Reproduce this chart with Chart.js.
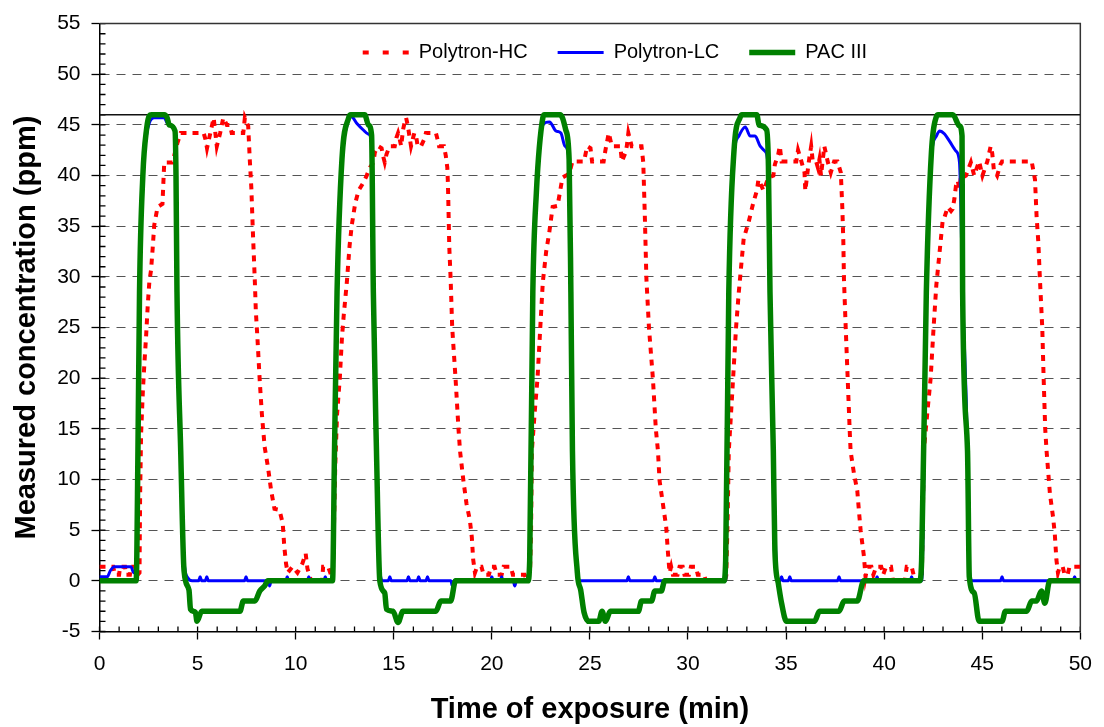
<!DOCTYPE html>
<html>
<head>
<meta charset="utf-8">
<script src="https://cdn.jsdelivr.net/npm/chart.js@4.4.0/dist/chart.umd.min.js"></script>
<style>
    html, body { margin: 0; padding: 0; background: #fff; }
    #wrap { width: 1104px; height: 727px; }
</style>
</head>
<body>
<div id="wrap"><canvas id="grafico" width="1104" height="727"></canvas></div>
<script>
// [time (min), concentration (ppm)]
const polytronHC = [
    [0, 1.4], [0.7, 1.4], [0.78, 0.6], [1.0, 0.6], [1.05, 1.4], [1.3, 1.4], [1.35, 0.6], [1.55, 0.6], [1.6, 1.4], [1.85, 1.4], [1.95, 0.6],
    [2.04, 0.8], [2.07, 8.3], [2.12, 14.5], [2.21, 18.7], [2.29, 21.5], [2.38, 24.3], [2.46, 27.2], [2.54, 29.5], [2.63, 30.7], [2.71, 32.8],
    [2.79, 35.1], [2.96, 36.9], [3.21, 37.2], [3.3, 41.3], [3.72, 41.3], [3.97, 43.2], [4.14, 44.2], [5.31, 44.2], [5.4, 43.6], [5.48, 42.7],
    [5.65, 44.2], [5.82, 45.7], [5.98, 42.9], [6.15, 44.2], [6.31, 45.7], [6.49, 45.0], [6.65, 45.0], [6.74, 44.2], [7.33, 44.2], [7.41, 45.7],
    [7.58, 44.9], [7.66, 41.6], [7.74, 38.8], [7.82, 34.4], [7.92, 29.5], [7.97, 26.6], [8.05, 24], [8.17, 19.7], [8.28, 16.4], [8.42, 13.2],
    [8.59, 11.2], [8.75, 8.9], [8.92, 7.1], [9.17, 7.0], [9.34, 5.7], [9.42, 3.4], [9.51, 1.7], [9.59, 0.8], [9.84, 1.4], [10.09, 0.8],
    [10.34, 1.7], [10.51, 2.7], [10.6, 1.2], [10.7, 0.6], [10.78, 0], [11.35, 0], [11.4, 1.4], [11.65, 1.4], [11.8, 0.6],
    [11.9, 0.6], [12.02, 11.5], [12.11, 16.4], [12.25, 20], [12.36, 24], [12.45, 26.2], [12.61, 29.5], [12.75, 33.1], [12.86, 35.1],
    [13.03, 37.2], [13.2, 38.5], [13.45, 39.3], [13.62, 40], [13.79, 40.8], [13.96, 41.3], [14.04, 42.3], [14.21, 42.9], [14.38, 42.7],
    [14.46, 41.9], [14.54, 41.3], [14.63, 42.1], [14.79, 42.9], [15.05, 42.9], [15.13, 43.7], [15.22, 44.2], [15.3, 43.6], [15.38, 42.9],
    [15.47, 44.5], [15.55, 45.2], [15.63, 45.7], [15.72, 44.9], [15.8, 43.9], [15.88, 42.9], [15.97, 43.6], [16.05, 44.2], [16.14, 43.9],
    [16.22, 42.9], [16.39, 42.9], [16.56, 43.6], [16.64, 44.2], [17.15, 44.2], [17.23, 43.6], [17.31, 42.9], [17.56, 42.9], [17.65, 42],
    [17.73, 40.8], [17.76, 39.3], [17.78, 37.7], [17.83, 33], [17.9, 29.8], [17.98, 25], [18.15, 20], [18.3, 15], [18.38, 12.8],
    [18.55, 9.9], [18.71, 7.6], [18.88, 6], [18.98, 4.3], [19.05, 2.1], [19.14, 0.8], [19.25, 1.4], [19.47, 1.4], [19.58, 0.6],
    [19.85, 0.6], [19.95, 1.4], [20.14, 1.4], [20.25, 0.6], [20.5, 0.6], [20.6, 1.4], [20.97, 1.4], [21.07, 0.6], [21.67, 0.6], [21.8, 0],
    [21.95, 1], [22.0, 5], [22.04, 12.8], [22.2, 17], [22.33, 20], [22.47, 25], [22.6, 29.5], [22.77, 32.5], [22.93, 34.4], [23.1, 36.9],
    [23.35, 37], [23.44, 38], [23.6, 39.8], [23.78, 40], [23.94, 40.2], [24.03, 40.8], [24.11, 41.4], [24.7, 41.4], [24.86, 42.9],
    [25.03, 42.7], [25.11, 41.4], [25.7, 41.4], [25.79, 42.5], [25.96, 44.2], [26.12, 42.9], [26.55, 42.9], [26.63, 41.4], [26.8, 42.2],
    [26.88, 42.9], [26.96, 44.2], [27.13, 42.9], [27.63, 42.9], [27.72, 41.3], [27.8, 36], [27.88, 29.8], [28.01, 25], [28.21, 20],
    [28.36, 15], [28.47, 12.8], [28.55, 9.9], [28.72, 7.6], [28.89, 5.3], [28.97, 3], [29.06, 0.8], [29.14, 1.4], [29.23, 0.6],
    [29.47, 0.6], [29.57, 1.4], [29.73, 1.4], [29.82, 0.6], [30.05, 0.6], [30.15, 1.4], [30.4, 1.4], [30.5, 0.6], [30.83, 0.6],
    [30.9, 0], [31.88, 0],
    [31.95, 0.5], [32.02, 6], [32.08, 12.8], [32.3, 20], [32.45, 25], [32.59, 28.5], [32.84, 33.8], [33.09, 35.4], [33.34, 37.4],
    [33.51, 38.5], [33.59, 39.6], [33.67, 39.3], [33.85, 38.5], [34.1, 39.8], [34.35, 40], [34.43, 41.1], [34.6, 42.1], [34.68, 42.9],
    [34.77, 41.4], [35.52, 41.4], [35.61, 42.5], [35.78, 41.4], [35.94, 40.3], [35.98, 38.5], [36.11, 40.6], [36.19, 41.8], [36.28, 42.9],
    [36.36, 41.4], [36.53, 41.4], [36.62, 40.8], [36.7, 41.6], [36.78, 40], [36.95, 42.9], [37.12, 41.4], [37.28, 40.3], [37.45, 41.4],
    [37.62, 41.4], [37.79, 40.3], [37.87, 36.7], [37.92, 33.4], [37.95, 29.8], [38.04, 25], [38.14, 20], [38.24, 15], [38.29, 12.8],
    [38.46, 10.6], [38.63, 8.9], [38.71, 7], [38.8, 5], [38.97, 2.4], [39.05, 0.4], [39.15, 1.4], [39.35, 1.4], [39.45, 0.6],
    [39.6, 1.4], [39.85, 1.4], [39.95, 0.6], [40.1, 1.4], [40.35, 1.4], [40.45, 0], [41.05, 0], [41.15, 1.4], [41.4, 1.4],
    [41.5, 0.6], [41.6, 0], [41.88, 0],
    [41.92, 0.5], [41.97, 6], [42.02, 12.8], [42.22, 17], [42.37, 20], [42.52, 25], [42.66, 29.2], [42.91, 34.1], [42.99, 35.7],
    [43.08, 35.9], [43.24, 36.9], [43.41, 36.5], [43.49, 36.7], [43.58, 37.7], [43.66, 39], [43.75, 39.5], [43.83, 38.7], [43.92, 40],
    [44.0, 39.8], [44.17, 40], [44.42, 41.3], [44.59, 40], [44.84, 41.4], [45.01, 40], [45.26, 41.4], [45.43, 42.9], [45.51, 42.2],
    [45.59, 40.6], [45.76, 40], [45.93, 41.1], [46.01, 41.4], [47.52, 41.4], [47.69, 39.6], [47.77, 36], [47.86, 33.4], [47.94, 29.8],
    [48.06, 25], [48.13, 20], [48.21, 15], [48.28, 12.8], [48.45, 8.6], [48.61, 6.3], [48.7, 4.6], [48.78, 2.1], [48.86, 0.8],
    [48.95, 1.4], [49.1, 1.4], [49.2, 0.6], [49.35, 0.6], [49.45, 1.4], [50, 1.4]
];

const polytronLC = [
    [0, 0.4], [0.4, 0.4], [0.55, 1.0], [0.75, 1.4], [1.6, 1.4], [1.75, 0.8], [1.86, 1.0],
    [1.96, 12.8], [2.04, 28.5], [2.21, 40], [2.4, 44], [2.54, 45.2], [2.79, 45.7], [3.3, 45.7], [3.45, 45.2], [3.63, 44.9], [3.85, 44.2],
    [3.9, 40], [3.95, 28.5], [4.14, 12.8], [4.31, 2], [4.5, 0.3], [4.72, 0],
    [5.05, 0], [5.13, 0.4], [5.21, 0], [5.39, 0], [5.47, 0.4], [5.55, 0], [7.39, 0], [7.47, 0.4], [7.55, 0],
    [8.59, 0], [8.67, -0.5], [8.75, 0], [9.49, 0], [9.57, 0.4], [9.65, 0], [10.59, 0], [10.67, 0.4], [10.75, 0],
    [11.43, 0], [11.51, 0.4], [11.59, 0],
    [11.88, 0], [11.98, 12.8], [12.11, 28.5], [12.36, 41.6], [12.6, 44.8], [12.85, 45.8], [13.1, 45.2], [13.45, 44.5], [13.7, 44.1],
    [13.87, 43.3], [13.96, 28.5], [14.12, 12.8], [14.29, 1], [14.45, 0],
    [14.72, 0], [14.8, 0.4], [14.88, 0], [15.67, 0], [15.75, 0.4], [15.83, 0], [16.19, 0], [16.27, 0.4], [16.35, 0],
    [16.64, 0], [16.72, 0.4], [16.8, 0], [17.91, 0], [17.99, -0.5], [18.07, 0], [19.92, 0], [20.0, 0.4], [20.08, 0],
    [20.42, 0], [20.5, 0.4], [20.58, 0], [21.09, 0], [21.17, -0.5], [21.25, 0],
    [21.84, 0], [21.93, 2], [22.09, 28.5], [22.27, 38.3], [22.55, 44.8], [22.94, 45.3], [23.27, 44.4], [23.52, 44.2], [23.73, 42.9],
    [23.92, 41.8], [24.03, 28.5], [24.11, 12.8], [24.36, 1], [24.5, 0],
    [26.88, 0], [26.96, 0.4], [27.04, 0], [28.23, 0], [28.31, 0.4], [28.39, 0],
    [31.92, 0], [32.08, 28.5], [32.34, 42], [32.59, 43.9], [32.92, 44.8], [33.17, 43.9], [33.42, 43.9], [33.68, 42.9], [33.93, 42.4],
    [34.08, 41], [34.18, 28.5], [34.35, 12.8], [34.5, 1.5], [34.62, 0],
    [34.69, 0], [34.77, 0.4], [34.85, 0], [35.11, 0], [35.19, 0.4], [35.27, 0], [37.62, 0], [37.7, 0.4], [37.78, 0],
    [39.56, 0], [39.64, 0.4], [39.72, 0], [41.32, 0], [41.4, 0.4], [41.48, 0],
    [41.91, 0], [42.15, 28.5], [42.41, 42], [42.66, 43.9], [42.83, 44.4], [43.08, 44.1], [43.33, 43.4], [43.67, 42.4], [43.84, 41.3],
    [44.0, 28.5], [44.25, 12.8], [44.34, 1], [44.5, 0],
    [45.93, 0], [46.01, 0.4], [46.09, 0], [49.63, 0], [49.71, 0.4], [49.79, 0], [50, 0]
];

const pacIII = [
    [0, 0], [1.87, 0], [1.96, 12.8], [2.04, 28.5], [2.21, 40], [2.4, 44.6], [2.54, 45.9], [2.64, 46], [3.3, 46], [3.45, 45.7],
    [3.55, 45], [3.85, 44.4], [3.9, 40], [3.95, 28.5], [4.14, 12.8], [4.31, 1], [4.56, -0.9], [4.64, -2.8], [4.89, -3.1], [4.97, -4],
    [5.21, -3], [7.16, -3], [7.33, -2], [7.92, -2], [8.17, -1], [8.42, -0.5], [8.58, 0],
    [11.88, 0], [11.98, 12.8], [12.11, 28.5], [12.36, 41.6], [12.7, 45.7], [12.81, 46], [13.52, 46], [13.71, 45], [13.87, 44],
    [13.96, 28.5], [14.12, 12.8], [14.29, 0], [14.54, -1.2], [14.63, -2.8], [14.96, -3], [15.22, -4.1], [15.47, -3], [17.15, -3],
    [17.4, -2], [17.9, -2], [18.15, 0],
    [21.84, 0], [21.93, 2], [22.09, 28.5], [22.27, 38.3], [22.6, 45.7], [22.68, 46], [23.49, 46], [23.6, 45.7], [23.77, 44.5],
    [23.94, 41.6], [24.03, 28.5], [24.11, 12.8], [24.36, 0.8], [24.53, -0.9], [24.7, -3.1], [24.95, -4], [25.45, -4], [25.62, -3],
    [25.79, -4], [26.04, -3], [27.47, -3], [27.63, -2], [28.14, -2], [28.31, -1], [28.64, -1], [28.81, 0],
    [31.83, 0], [31.92, 2], [32.08, 28.5], [32.34, 42.3], [32.67, 45.8], [32.75, 46], [33.51, 46], [33.62, 45], [34.01, 44.5],
    [34.1, 41], [34.18, 28.5], [34.35, 12.8], [34.43, 3], [34.6, -0.2], [34.77, -2.2], [35.02, -4], [36.45, -4], [36.7, -3],
    [37.7, -3], [37.96, -2], [38.63, -2], [38.96, 0],
    [41.81, 0], [41.91, 2], [42.15, 28.5], [42.41, 42.3], [42.66, 45.8], [42.75, 46], [43.5, 46], [43.84, 44.9], [43.97, 43.9],
    [44.0, 28.5], [44.25, 12.8], [44.34, 0.4], [44.59, -1.2], [44.84, -4], [46.01, -4], [46.18, -3], [47.27, -3], [47.52, -2],
    [47.76, -2], [48.02, -1], [48.19, -2.2], [48.44, 0], [50, 0]
];

const limitPpm = 46;
const timeRange = [0, 50];

const toPoints = pairs => pairs.map(([x, y]) => ({ x, y }));

const fontFamily = '"Liberation Sans", Arial, sans-serif';
Chart.defaults.font.family = fontFamily;
Chart.defaults.color = '#000';

// the legend box takes the top margin; move it down inside the plot
const legendPlacement = {
    id: 'legendPlacement',
    afterLayout(chart) {
        const lg = chart.legend;
        const area = chart.chartArea;
        lg.left = area.left + 25;
        lg.right = area.right + 25;
        lg.top = area.top - 11;
        lg.bottom = lg.top + 70;
    }
};

// minor ticks inside the axes, plus the top and right frame
const minorTicks = {
    id: 'minorTicks',
    beforeDatasetsDraw(chart) {
        const { ctx, chartArea: area, scales: { x, y } } = chart;
        ctx.save();
        ctx.strokeStyle = '#000';
        ctx.lineWidth = 1.3;
        ctx.beginPath();
        for (let v = -5; v <= 55; v++) {
            const py = y.getPixelForValue(v);
            ctx.moveTo(area.left, py);
            ctx.lineTo(area.left + 6, py);
        }
        for (let v = 0; v <= 50; v++) {
            const px = x.getPixelForValue(v);
            ctx.moveTo(px, area.bottom);
            ctx.lineTo(px, area.bottom - 5);
        }
        ctx.stroke();
        ctx.strokeStyle = '#333';
        ctx.lineWidth = 1.5;
        ctx.beginPath();
        ctx.moveTo(area.left, area.top);
        ctx.lineTo(area.right, area.top);
        ctx.lineTo(area.right, area.bottom);
        ctx.stroke();
        ctx.restore();
    }
};

new Chart(document.getElementById('grafico'), {
    type: 'line',
    data: {
        datasets: [{
            label: 'Polytron-HC',
            data: toPoints(polytronHC),
            borderColor: '#ff0000',
            backgroundColor: '#ff0000',
            borderWidth: 4,
            borderDash: [6, 6],
            pointRadius: 0,
            tension: 0,
            order: 3
        }, {
            label: 'Polytron-LC',
            data: toPoints(polytronLC),
            borderColor: '#0000ff',
            backgroundColor: '#0000ff',
            borderWidth: 3,
            pointRadius: 0,
            cubicInterpolationMode: 'monotone',
            order: 2
        }, {
            label: 'PAC III',
            data: toPoints(pacIII),
            borderColor: '#008000',
            backgroundColor: '#008000',
            borderWidth: 5.5,
            pointRadius: 0,
            cubicInterpolationMode: 'monotone',
            order: 1
        }, {
            label: 'limit',
            data: toPoints([[timeRange[0], limitPpm], [timeRange[1], limitPpm]]),
            borderColor: '#111',
            borderWidth: 1.5,
            pointRadius: 0,
            order: 4
        }]
    },
    options: {
        responsive: false,
        animation: false,
        layout: {
            padding: { top: 0, right: 12, left: 0, bottom: 0 }
        },
        plugins: {
            tooltip: { enabled: false },
            legend: {
                position: 'top',
                align: 'center',
                maxHeight: 20.7,
                labels: {
                    usePointStyle: true,
                    pointStyle: 'line',
                    pointStyleWidth: 46,
                    padding: 30,
                    color: '#000',
                    font: { size: 20 },
                    // point-style items lose the dataset dash; the legend sample uses wider gaps
                    generateLabels: chart => Chart.defaults.plugins.legend.labels.generateLabels(chart).map(item => ({
                        ...item,
                        lineDash: chart.data.datasets[item.datasetIndex].borderDash ? [6, 14] : []
                    })),
                    filter: item => item.datasetIndex < 3,
                    sort: (a, b) => a.datasetIndex - b.datasetIndex
                }
            }
        },
        scales: {
            x: {
                type: 'linear',
                min: timeRange[0],
                max: timeRange[1],
                ticks: { stepSize: 5, font: { size: 21 }, color: '#000', padding: 12, maxRotation: 0 },
                grid: { drawOnChartArea: false, tickLength: 8, tickColor: '#000', tickWidth: 1.3 },
                border: { color: '#000', width: 1.5 },
                title: {
                    display: true,
                    text: 'Time of exposure (min)',
                    font: { size: 29, weight: 'bold' },
                    color: '#000',
                    padding: { top: 0, bottom: 0 }
                },
                afterFit: scale => { scale.height = 95.5; }
            },
            y: {
                min: -5,
                max: 55,
                ticks: { stepSize: 5, font: { size: 21 }, color: '#000', padding: 11 },
                grid: {
                    color: ctx => (ctx.tick && ctx.tick.value === 55 ? '#444' : '#555'),
                    lineWidth: 1,
                    tickLength: 8,
                    tickColor: '#000',
                    tickWidth: 1.3
                },
                border: { color: '#000', width: 1.5, dash: [9, 7] },
                title: {
                    display: true,
                    text: 'Measured concentration (ppm)',
                    font: { size: 29, weight: 'bold' },
                    color: '#000',
                    padding: { top: 10, bottom: 0 }
                },
                afterFit: scale => { scale.width = 99.5; }
            }
        }
    },
    plugins: [legendPlacement, minorTicks]
});
</script>
</body>
</html>
